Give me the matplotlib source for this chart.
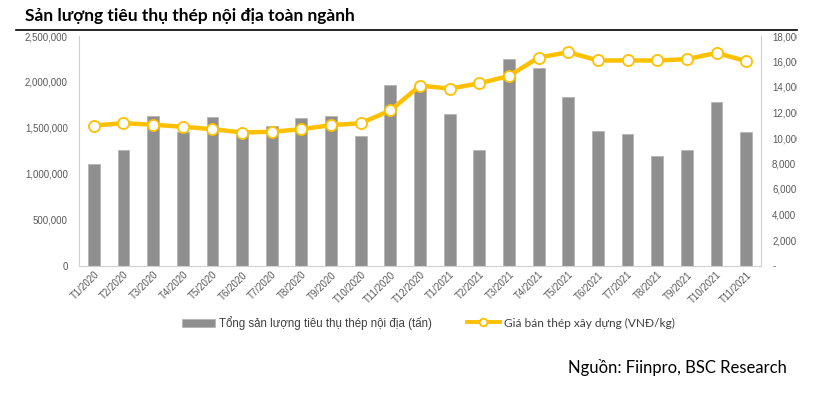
import matplotlib.pyplot as plt
from matplotlib.ticker import FuncFormatter
from matplotlib.transforms import Bbox, TransformedBbox

months = ['T1/2020', 'T2/2020', 'T3/2020', 'T4/2020', 'T5/2020', 'T6/2020',
          'T7/2020', 'T8/2020', 'T9/2020', 'T10/2020', 'T11/2020', 'T12/2020',
          'T1/2021', 'T2/2021', 'T3/2021', 'T4/2021', 'T5/2021', 'T6/2021',
          'T7/2021', 'T8/2021', 'T9/2021', 'T10/2021', 'T11/2021']

# tong san luong tieu thu (tan)
volume = [1105000, 1255000, 1628000, 1451000, 1622000, 1435000,
          1524000, 1603000, 1625000, 1408000, 1962000, 1962000,
          1647000, 1263000, 2245000, 2154000, 1832000, 1462000,
          1433000, 1198000, 1259000, 1785000, 1455000]

# gia ban thep xay dung (VND/kg)
price = [10980, 11160, 11040, 10880, 10690, 10430,
         10490, 10690, 11010, 11160, 12160, 14110,
         13870, 14290, 14870, 16310, 16730, 16080,
         16080, 16080, 16180, 16680, 16020]

plt.rcParams['font.family'] = ['Liberation Sans', 'DejaVu Sans']

fig = plt.figure(figsize=(8.14, 3.98), dpi=100)
ax = fig.add_axes([79 / 814, 1 - 265.5 / 398, 682 / 814, 229.5 / 398])
ax2 = ax.twinx()

x = list(range(len(months)))
bars = ax.bar(x, volume, width=0.4, color='#8f8f8f', edgecolor='#b5b5b5',
              linewidth=0.6, label='Tổng sản lượng tiêu thụ thép nội địa (tấn)')
line, = ax2.plot(x, price, color='#FFC000', linewidth=3.2, marker='o',
                 markersize=8, markerfacecolor='white', markeredgecolor='#FFC000',
                 markeredgewidth=1.3, label='Giá bán thép xây dựng (VNĐ/kg)')

ax.set_xlim(-0.5, len(months) - 0.5)
ax.set_ylim(0, 2500000)
ax.set_yticks(range(0, 2500001, 500000))
ax.yaxis.set_major_formatter(FuncFormatter(lambda v, p: f'{int(v):,}'))
ax2.set_ylim(0, 18000)
ax2.set_yticks(range(0, 18001, 2000))
ax2.yaxis.set_major_formatter(FuncFormatter(lambda v, p: '-' if v == 0 else f'{int(v):,}'))

ax.set_xticks(x)
ax.set_xticklabels(months, rotation=45, ha='right', rotation_mode='anchor')

for a in (ax, ax2):
    for s in a.spines.values():
        s.set_visible(False)
    a.tick_params(length=0, labelsize=7, labelcolor='#595959', pad=4)
ax.spines['left'].set_visible(True)
ax.spines['bottom'].set_visible(True)
ax2.spines['right'].set_visible(True)
ax.spines['left'].set_color('#d0d0d0')
ax.spines['bottom'].set_color('#d0d0d0')
ax2.spines['right'].set_color('#d0d0d0')
ax.tick_params(axis='x', pad=3)
ax.tick_params(axis='y', pad=8)
ax2.tick_params(axis='y', pad=8)

# right labels are cut at the edge of the picture in the original
fig.canvas.draw()
clip = TransformedBbox(Bbox([[0, 0], [797 / 814, 1]]), fig.transFigure)
for lab in ax2.get_yticklabels():
    lab.set_clip_box(clip)
    lab.set_clip_on(True)

fig.text(25 / 814, 1 - 16 / 398, 'Sản lượng tiêu thụ thép nội địa toàn ngành',
         fontsize=12.5, fontweight='bold', family=['Lato', 'DejaVu Sans'],
         va='center', ha='left')
fig.add_artist(plt.Line2D([16 / 814, 797 / 814], [1 - 29.5 / 398] * 2,
                          color='black', linewidth=1.2))

leg_opts = dict(loc='center left', frameon=False, fontsize=8.3, labelcolor='#404040',
                handlelength=2.85, handletextpad=0.35, borderpad=0, borderaxespad=0)
fig.legend([bars], [bars.get_label()], bbox_to_anchor=(182 / 814, 1 - 323 / 398),
           **leg_opts)
leg2 = fig.legend([line], [line.get_label()], bbox_to_anchor=(467 / 814, 1 - 323 / 398),
                  **leg_opts)
leg2.legend_handles[0].set_markersize(5.5)
leg2.legend_handles[0].set_linewidth(2.8)
for t in leg2.get_texts():
    t.set_family(['Lato', 'DejaVu Sans'])
    t.set_fontsize(8.6)

fig.text(787 / 814, 1 - 367 / 398, 'Nguồn: Fiinpro, BSC Research', fontsize=12,
         family=['Lato', 'DejaVu Sans'], ha='right', va='center')

fig.savefig('out.png', dpi=100)
